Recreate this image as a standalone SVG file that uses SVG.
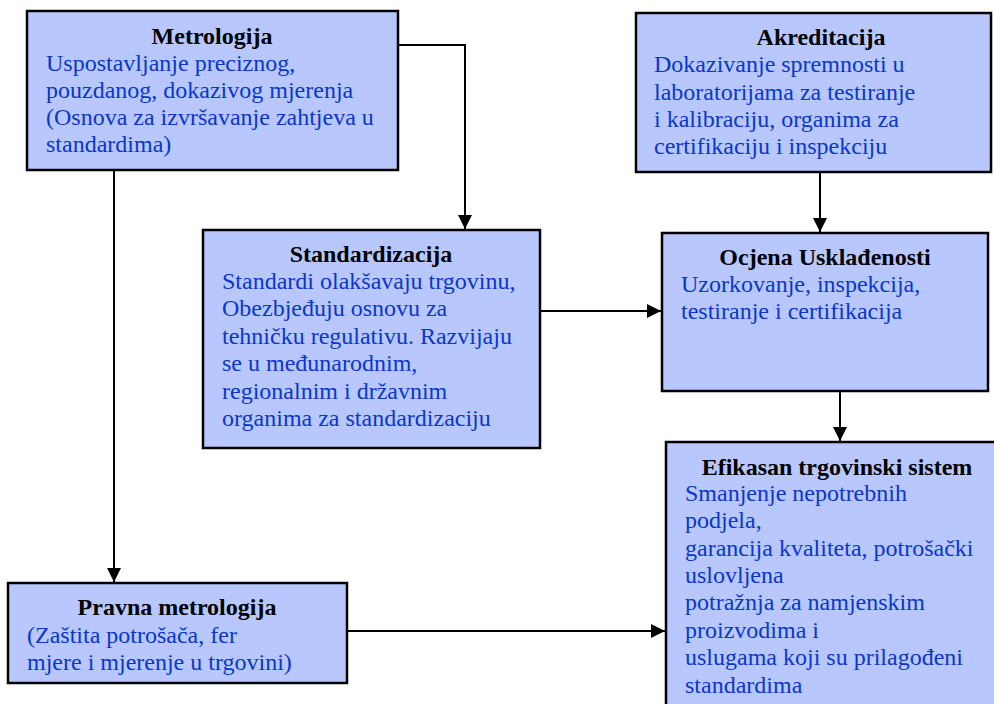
<svg xmlns="http://www.w3.org/2000/svg" width="994" height="704" viewBox="0 0 994 704">
<style>
.box{fill:#b8c8ff;stroke:#000;stroke-width:2.5}
.t{font-family:"Liberation Serif","Times New Roman",serif;font-size:24px;font-weight:bold;fill:#000;text-anchor:middle}
.b{font-family:"Liberation Serif","Times New Roman",serif;font-size:24px;fill:#0a36cc}
.c{fill:none;stroke:#000;stroke-width:2}
</style>
<defs>
<marker id="ah" markerUnits="userSpaceOnUse" markerWidth="14" markerHeight="14" refX="14" refY="7" orient="auto">
<path d="M0,0 L14,7 L0,14 z" fill="#000"/>
</marker>
</defs>
<rect width="994" height="704" fill="#fff"/>
<g id="connectors">
<path class="c" d="M398,45 H465 V229" marker-end="url(#ah)"/>
<path class="c" d="M114,170 V582" marker-end="url(#ah)"/>
<path class="c" d="M820,172 V232" marker-end="url(#ah)"/>
<path class="c" d="M540,311 H661" marker-end="url(#ah)"/>
<path class="c" d="M840,391 V441" marker-end="url(#ah)"/>
<path class="c" d="M347,631 H665" marker-end="url(#ah)"/>
</g>
<g id="metrologija">
<rect class="box" x="27" y="11" width="371" height="159"/>
<text class="t" x="212" y="44">Metrologija</text>
<text class="b" x="46" y="71">Uspostavljanje preciznog,</text>
<text class="b" x="46" y="98">pouzdanog, dokazivog mjerenja</text>
<text class="b" x="46" y="125">(Osnova za izvršavanje zahtjeva u</text>
<text class="b" x="46" y="152">standardima)</text>
</g>
<g id="akreditacija">
<rect class="box" x="636" y="13" width="355" height="159"/>
<text class="t" x="821" y="45">Akreditacija</text>
<text class="b" x="654" y="72">Dokazivanje spremnosti u</text>
<text class="b" x="654" y="100">laboratorijama za testiranje</text>
<text class="b" x="654" y="127">i kalibraciju, organima za</text>
<text class="b" x="654" y="154">certifikaciju i inspekciju</text>
</g>
<g id="standardizacija">
<rect class="box" x="203" y="230" width="337" height="218"/>
<text class="t" x="371" y="262">Standardizacija</text>
<text class="b" x="222" y="289">Standardi olakšavaju trgovinu,</text>
<text class="b" x="222" y="316">Obezbjeđuju osnovu za</text>
<text class="b" x="222" y="344">tehničku regulativu. Razvijaju</text>
<text class="b" x="222" y="371">se u međunarodnim,</text>
<text class="b" x="222" y="399">regionalnim i državnim</text>
<text class="b" x="222" y="426">organima za standardizaciju</text>
</g>
<g id="ocjena">
<rect class="box" x="662" y="233" width="326" height="158"/>
<text class="t" x="825" y="265">Ocjena Usklađenosti</text>
<text class="b" x="681" y="292">Uzorkovanje, inspekcija,</text>
<text class="b" x="681" y="319">testiranje i certifikacija</text>
</g>
<g id="efikasan">
<rect class="box" x="666" y="442" width="340" height="280"/>
<text class="t" x="837" y="475">Efikasan trgovinski sistem</text>
<text class="b" x="685" y="501">Smanjenje nepotrebnih</text>
<text class="b" x="685" y="528">podjela,</text>
<text class="b" x="685" y="556">garancija kvaliteta, potrošački</text>
<text class="b" x="685" y="583">uslovljena</text>
<text class="b" x="685" y="610">potražnja za namjenskim</text>
<text class="b" x="685" y="638">proizvodima i</text>
<text class="b" x="685" y="665">uslugama koji su prilagođeni</text>
<text class="b" x="685" y="693">standardima</text>
</g>
<g id="pravna">
<rect class="box" x="8" y="583" width="339" height="100"/>
<text class="t" x="177" y="615">Pravna metrologija</text>
<text class="b" x="27" y="643">(Zaštita potrošača, fer</text>
<text class="b" x="27" y="670">mjere i mjerenje u trgovini)</text>
</g>
</svg>
